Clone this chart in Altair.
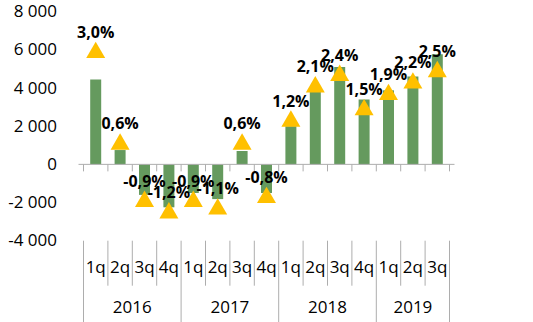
import altair as alt
import pandas as pd

years = ["2016", "2016", "2016", "2016", "2017", "2017", "2017", "2017",
         "2018", "2018", "2018", "2018", "2019", "2019", "2019"]
quarters = ["1q", "2q", "3q", "4q", "1q", "2q", "3q", "4q",
            "1q", "2q", "3q", "4q", "1q", "2q", "3q"]
values = [4450, 750, -1600, -2250, -1500, -1820, 700, -1500,
          2000, 4000, 5100, 3400, 3880, 4600, 5770]
pcts = [3.0, 0.6, -0.9, -1.2, -0.9, -1.1, 0.6, -0.8,
        1.2, 2.1, 2.4, 1.5, 1.9, 2.2, 2.5]
y_ticks = [-4000, -2000, 0, 2000, 4000, 6000, 8000]

df = pd.DataFrame({
    "idx": list(range(len(values))),
    "year": years,
    "quarter": quarters,
    "value": values,
    "pct": pcts,
})
zero_df = pd.DataFrame({"value": [0]})

GREEN = "#659A5E"
GOLD = "#FFC000"
GREY = "#ADADAD"
FONT = "Open Sans"

xscale = alt.Scale(domain=[-0.5, len(values) - 0.5], nice=False, zero=False)


def X(field):
    return alt.X(field, type="quantitative", scale=xscale, axis=None)


yscale = alt.Scale(domain=[min(y_ticks), max(y_ticks)], nice=False, zero=False)
yaxis = alt.Axis(
    values=y_ticks, grid=False, domain=False, ticks=False, tickSize=0,
    labelPadding=22, labelFont=FONT, labelFontSize=17, labelColor="black",
    labelOverlap=False, labelFlush=False, title=None,
    labelExpr="(datum.value < 0 ? '-' : '') + replace(format(abs(datum.value), ','), ',', ' ')",
)
Y = alt.Y("value:Q", scale=yscale, axis=yaxis)

bars = alt.Chart(df).mark_bar(size=11, color=GREEN).encode(x=X("idx"), y=Y)

zero_line = alt.Chart(zero_df).mark_rule(color=GREY, strokeWidth=1).encode(y=Y)

left_edges = alt.Chart(df).transform_calculate(edge="datum.idx - 0.5")
right_edge = (alt.Chart(df)
              .transform_joinaggregate(maxIdx="max(idx)")
              .transform_filter("datum.idx == datum.maxIdx")
              .transform_calculate(edge="datum.idx + 0.5"))
year_starts = (alt.Chart(df)
               .transform_joinaggregate(minIdx="min(idx)", groupby=["year"])
               .transform_calculate(edge="datum.idx - 0.5", isStart="datum.idx == datum.minIdx"))

zero_ticks = alt.layer(
    left_edges.transform_calculate(z="0").mark_rule(color=GREY, y2Offset=7).encode(
        x=X("edge"), y=alt.Y("z:Q", scale=yscale, axis=yaxis), y2="z:Q"),
    right_edge.transform_calculate(z="0").mark_rule(color=GREY, y2Offset=7).encode(
        x=X("edge"), y=alt.Y("z:Q", scale=yscale, axis=yaxis), y2="z:Q"),
)

short_seps = year_starts.transform_filter("!datum.isStart").mark_rule(color=GREY).encode(
    x=X("edge"), y=alt.value(229), y2=alt.value(274))
long_seps = year_starts.transform_filter("datum.isStart").mark_rule(color=GREY).encode(
    x=X("edge"), y=alt.value(229), y2=alt.value(311))
end_sep = right_edge.mark_rule(color=GREY).encode(
    x=X("edge"), y=alt.value(229), y2=alt.value(311))

q_labels = alt.Chart(df).mark_text(font=FONT, fontSize=17, color="black", baseline="middle").encode(
    x=X("idx"), y=alt.value(256), text="quarter:N")
y_labels = (alt.Chart(df)
            .transform_aggregate(mid="mean(idx)", groupby=["year"])
            .mark_text(font=FONT, fontSize=17, color="black", baseline="middle")
            .encode(x=X("mid"), y=alt.value(296), text="year:N"))

pscale = alt.Scale(domain=[min(y_ticks) / 2000, max(y_ticks) / 2000], nice=False, zero=False)

tri = alt.Chart(df).mark_point(shape="triangle-up", filled=True, size=360,
                               color=GOLD, opacity=1, strokeWidth=0).encode(
    x=X("idx"), y=alt.Y("pct:Q", scale=pscale, axis=None))
pct_txt = (alt.Chart(df)
           .transform_calculate(lbl="(datum.pct < 0 ? '-' : '') + replace(format(abs(datum.pct), '.1f'), '.', ',') + '%'")
           .mark_text(dy=-17, font=FONT, fontWeight="bold", fontSize=16, color="black", baseline="middle")
           .encode(x=X("idx"), y=alt.Y("pct:Q", scale=pscale, axis=None), text="lbl:N"))

main = alt.layer(bars, zero_line, zero_ticks, short_seps, long_seps, end_sep, q_labels, y_labels)
pct_layer = alt.layer(tri, pct_txt)

chart = (alt.layer(main, pct_layer)
         .resolve_scale(y="independent")
         .properties(width=376, height=229,
                     padding={"left": 78.5, "top": 11.7, "right": 78.5, "bottom": 81.3},
                     autosize="none", background="white")
         .configure_view(stroke=None)
         .configure_axisY(labelOverlap=False))

chart.save("out.html", embed_options={"renderer": "svg", "actions": False})
